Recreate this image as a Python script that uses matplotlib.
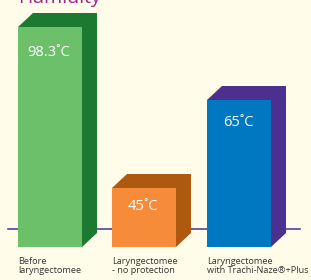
import matplotlib.pyplot as plt
from matplotlib.patches import Polygon

labels = ["Before\nlaryngectomee", "Laryngectomee\n- no protection", "Laryngectomee\nwith Trachi-Naze\u00ae+Plus"]
values = ["98.3\u02daC", "45\u02daC", "65\u02daC"]
heights = [220, 59, 147]          # drawn bar heights (px units)
lefts = [18, 112, 207]
label_drop = [25, 18, 22]
front_cols = ["#6cc06a", "#f68b3a", "#0078c1"]
side_cols = ["#1b7a2f", "#ad5a10", "#4d2f8f"]

W, H = 311, 280
bottom = H - 247
width = 64
dx, dy = 15, 14
bg = "#fffce9"

fig = plt.figure(figsize=(W / 100, H / 100), dpi=100, facecolor=bg)
ax = fig.add_axes([0, 0, 1, 1])
ax.set_xlim(0, W)
ax.set_ylim(0, H)
ax.set_facecolor(bg)
ax.axis("off")

# baseline
ax.plot([8, 300], [H - 229, H - 229], color="#5b3f99", lw=1.2, zorder=1)

for x0, h, fc, sc, v, d in zip(lefts, heights, front_cols, side_cols, values, label_drop):
    top = bottom + h
    x1 = x0 + width
    side = Polygon([(x0, top), (x0 + dx, top + dy), (x1 + dx, top + dy),
                    (x1 + dx, bottom + dy), (x1, bottom)], closed=True,
                   facecolor=sc, edgecolor="none", zorder=2)
    ax.add_patch(side)
    ax.bar(x0, h, width=width, bottom=bottom, align="edge", color=fc, zorder=3)
    ax.text(x0 + width / 2 - 1, top - d, v, color="white", fontsize=10.5,
            family="Open Sans", ha="center", va="center", zorder=4)

for x0, lab in zip(lefts, labels):
    ax.text(x0, H - 257, lab, color="#333333", fontsize=6.6, family="Open Sans",
            ha="left", va="top", linespacing=0.95)

ax.text(18, H - 3, "Humidity", color="#a3238e", fontsize=14, family="Open Sans",
        ha="left", va="baseline")

fig.savefig("out.png", dpi=100, facecolor=bg)
